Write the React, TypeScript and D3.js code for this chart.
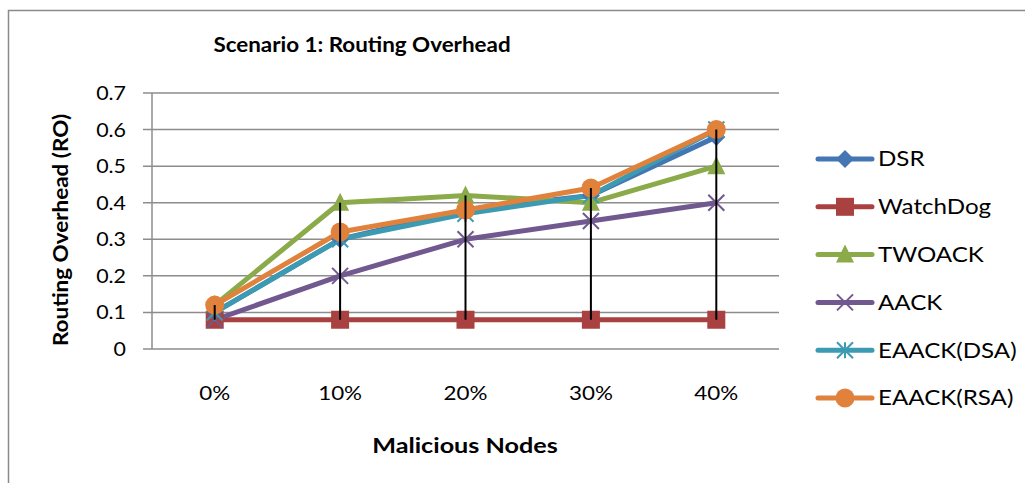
import React from "react";
import * as d3 from "d3";

const categories = ["0%", "10%", "20%", "30%", "40%"];
const seriesNames = ["DSR", "WatchDog", "TWOACK", "AACK", "EAACK(DSA)", "EAACK(RSA)"];
const dsr = [0.1, 0.3, 0.38, 0.42, 0.58];
const watchDog = [0.08, 0.08, 0.08, 0.08, 0.08];
const twoack = [0.12, 0.4, 0.42, 0.4, 0.5];
const aack = [0.08, 0.2, 0.3, 0.35, 0.4];
const eaackDsa = [0.1, 0.3, 0.37, 0.42, 0.6];
const eaackRsa = [0.12, 0.32, 0.38, 0.44, 0.6];
const yTicks = [0, 0.1, 0.2, 0.3, 0.4, 0.5, 0.6, 0.7];

const colors = ["#4376B3", "#A8413F", "#8BAA4A", "#71588F", "#3C9AB3", "#E0823B"];
const markers = ["diamond", "square", "triangle", "x", "star", "circle"];
const allValues = [dsr, watchDog, twoack, aack, eaackDsa, eaackRsa];

const FONT = "Lato, 'Open Sans', sans-serif";

function SText({
  x,
  y,
  sx,
  rotate = 0,
  anchor = "start",
  size,
  bold = false,
  children,
}: {
  x: number;
  y: number;
  sx: number;
  rotate?: number;
  anchor?: string;
  size: number;
  bold?: boolean;
  children: React.ReactNode;
}) {
  return (
    <g transform={`translate(${x},${y}) rotate(${rotate}) scale(${sx},1)`}>
      <text dy="0.35em" textAnchor={anchor as any} fontSize={size} fontWeight={bold ? "bold" : "normal"} fill="#000">
        {children}
      </text>
    </g>
  );
}

function Marker({ type, x, y, color }: { type: string; x: number; y: number; color: string }) {
  if (type === "diamond") {
    const r = 9;
    return <path d={`M${x},${y - r}L${x + r},${y}L${x},${y + r}L${x - r},${y}Z`} fill={color} />;
  }
  if (type === "square") {
    const s = 18;
    return <rect x={x - s / 2} y={y - s / 2} width={s} height={s} fill={color} />;
  }
  if (type === "triangle") {
    const r = 9;
    return <path d={`M${x},${y - r - 1}L${x + r},${y + r - 1}L${x - r},${y + r - 1}Z`} fill={color} />;
  }
  if (type === "x") {
    const r = 8;
    return (
      <path d={`M${x - r},${y - r}L${x + r},${y + r}M${x - r},${y + r}L${x + r},${y - r}`} stroke={color} strokeWidth={2} />
    );
  }
  if (type === "star") {
    const r = 8;
    return (
      <path
        d={`M${x - r},${y - r}L${x + r},${y + r}M${x - r},${y + r}L${x + r},${y - r}M${x},${y - r}L${x},${y + r}`}
        stroke={color}
        strokeWidth={2}
      />
    );
  }
  return <circle cx={x} cy={y} r={9.5} fill={color} />;
}

export default function App() {
  const W = 1025;
  const H = 483;
  const left = 152;
  const right = 779;
  const top = 93;
  const bottom = 349;

  const x = d3.scaleBand<string>().domain(categories).range([left, right]);
  const y = d3.scaleLinear().domain([0, 0.7]).range([bottom, top]);
  const cx = (c: string) => (x(c) as number) + x.bandwidth() / 2;

  const line = d3
    .line<number>()
    .x((_, i) => cx(categories[i]))
    .y((d) => y(d));

  const legendY = d3.scalePoint<string>().domain(seriesNames).range([159, 398]);

  return (
    <svg width={W} height={H} style={{ position: "absolute", left: 0, top: 0 }} fontFamily={FONT}>
      <rect x={0} y={0} width={W} height={H} fill="#fff" />
      <rect x={8.5} y={10.5} width={1030} height={490} fill="none" stroke="#8a8a8a" strokeWidth={1.5} />

      <SText x={362} y={45} sx={1.12} anchor="middle" size={20} bold>
        Scenario 1: Routing Overhead
      </SText>

      {yTicks.map((t) => (
        <g key={t}>
          <line x1={left - 9} x2={right} y1={y(t)} y2={y(t)} stroke="#8c8c8c" strokeWidth={1.5} />
          <SText x={126} y={y(t)} sx={1.07} anchor="end" size={20}>
            {t === 0 ? "0" : t.toFixed(1)}
          </SText>
        </g>
      ))}
      <line x1={left} x2={left} y1={top} y2={bottom} stroke="#8c8c8c" strokeWidth={1.5} />

      {categories.map((c) => (
        <SText key={c} x={cx(c)} y={393} sx={1.12} anchor="middle" size={20}>
          {c}
        </SText>
      ))}

      <SText x={465} y={446} sx={1.2} anchor="middle" size={21} bold>
        Malicious Nodes
      </SText>
      <SText x={61} y={230} sx={1.07} rotate={-90} anchor="middle" size={21} bold>
        Routing Overhead (RO)
      </SText>

      {allValues.map((vals, si) => (
        <path key={si} d={line(vals) as string} fill="none" stroke={colors[si]} strokeWidth={5} strokeLinejoin="round" />
      ))}
      {allValues.map((vals, si) =>
        vals.map((v, i) => <Marker key={`${si}-${i}`} type={markers[si]} x={cx(categories[i])} y={y(v)} color={colors[si]} />)
      )}

      {categories.map((c, i) => {
        const vs = allValues.map((a) => a[i]);
        return (
          <line
            key={c}
            x1={cx(c)}
            x2={cx(c)}
            y1={y(d3.max(vs) as number)}
            y2={y(d3.min(vs) as number)}
            stroke="#000"
            strokeWidth={2}
          />
        );
      })}

      {seriesNames.map((n, si) => {
        const ly = legendY(n) as number;
        return (
          <g key={n}>
            <line x1={818} x2={872} y1={ly} y2={ly} stroke={colors[si]} strokeWidth={5} strokeLinecap="round" />
            <Marker type={markers[si]} x={845} y={ly} color={colors[si]} />
            <SText x={878} y={ly} sx={1.15} size={21}>
              {n}
            </SText>
          </g>
        );
      })}
    </svg>
  );
}
